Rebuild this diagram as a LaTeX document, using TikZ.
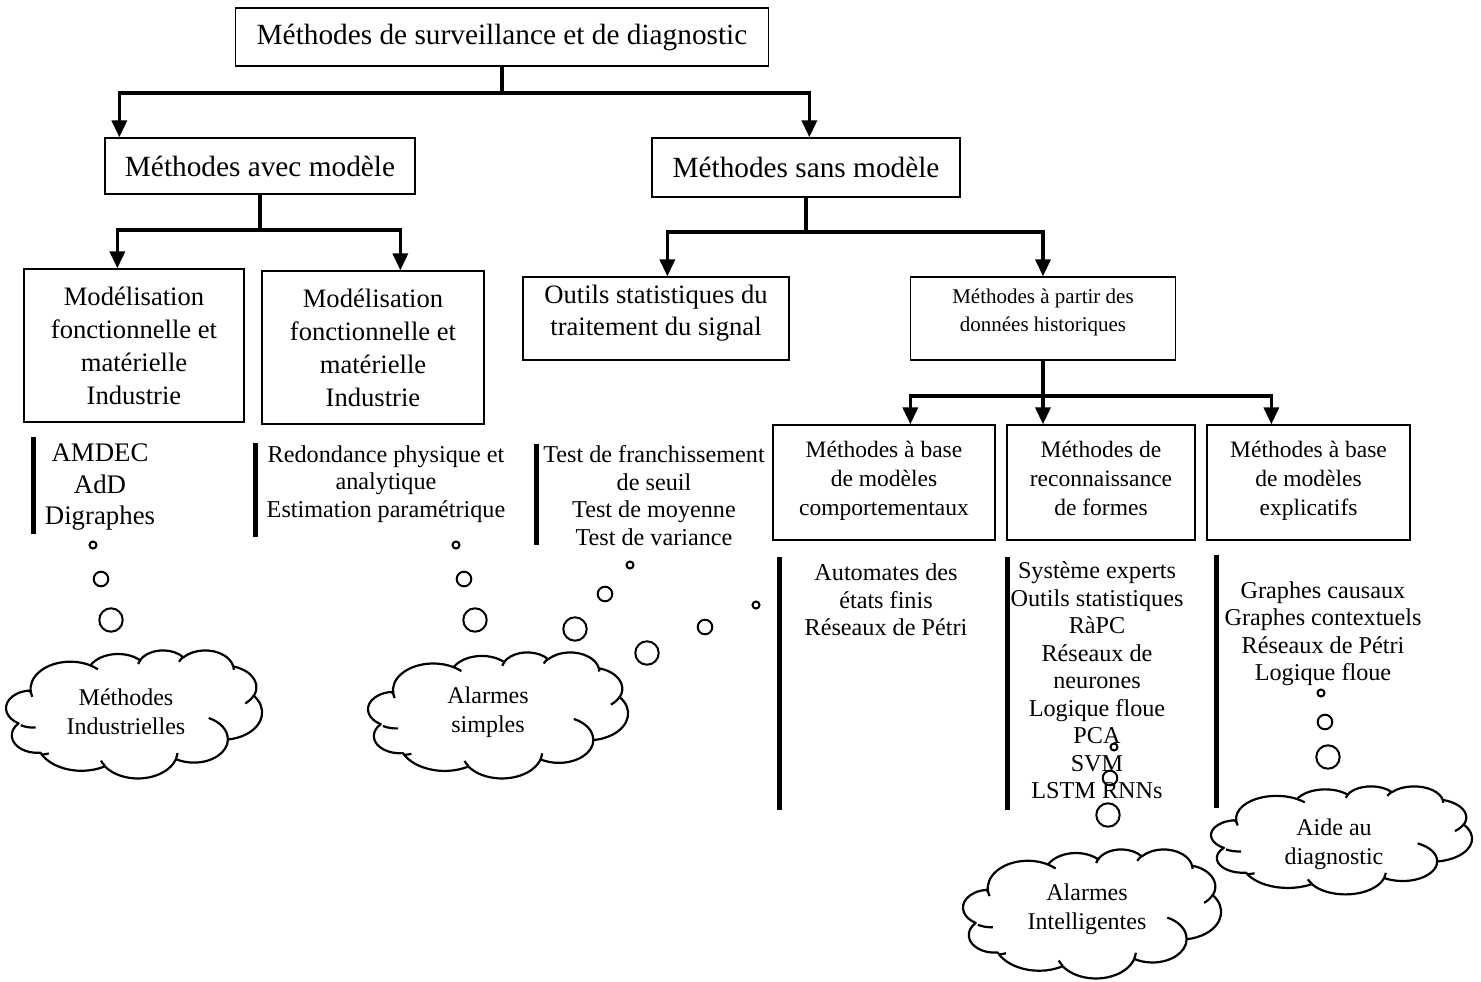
\documentclass[tikz,border=0pt]{standalone}
\usepackage{fontspec}
\setmainfont{Liberation Serif}
\usetikzlibrary{arrows.meta}

% visual (OOXML-style) angle -> parametric angle on an ellipse with radii #2, #3
\makeatletter
\pgfmathdeclarefunction{vpar}{3}{%
  \begingroup
  \pgfmathparse{#1+mod(atan2(#2*sin(#1),#3*cos(#1))-(#1)+900,360)-180}%
  \pgfmath@smuggleone\pgfmathresult
  \endgroup}
\makeatother
% one puff of the cloud: start angle, sweep, x radius, y radius
\newcommand\carc[4]{arc[x radius=#3, y radius=#4, start angle={vpar(#1,#3,#4)}, end angle={vpar(#1+#2,#3,#4)}]}

% cloud callout drawn in the box with top-left corner (#1,#2), width #3, height #4
\newcommand\thoughtcloud[4]{%
  \pgfmathsetmacro\cwx{#3/100}\pgfmathsetmacro\chy{-#4/100}%
  \begin{scope}[shift={(#1,#2)}, x=\cwx pt, y=\chy pt]
    \draw[cloudline, fill=white] (9.028,33.264)
      \carc{-190.487}{123.781}{15.632}{21.273}
      \carc{-144.102}{89.945}{12.345}{16.822}
      \carc{-145.808}{99.723}{10.104}{13.762}
      \carc{-130.986}{117.242}{11.243}{15.266}
      \carc{-78.709}{109.027}{12.345}{16.836}
      \carc{-46.267}{130.269}{15.683}{21.343}
      \carc{0.625}{114.033}{13.391}{18.211}
      \carc{22.452}{115.173}{15.630}{21.331}
      \carc{66.243}{81.375}{17.870}{24.405}
      \carc{-274.942}{146.736}{10.093}{13.699}
      \carc{-246.829}{152.519}{10.058}{13.762}
      -- cycle;
    \draw[cloudline]
      (10.863,60.595) \carc{86.742}{26.430}{10.058}{13.762}
      (16.037,80.785) \carc{73.610}{11.447}{10.093}{13.699}
      (38.144,90.486) \carc{137.624}{14.081}{15.630}{21.331}
      (66.729,80.442) \carc{6.453}{15.998}{15.630}{21.331}
      (79.002,53.134) \carc{-70.292}{70.917}{13.391}{18.211}
      (96.755,35.542) \carc{30.318}{27.752}{12.345}{16.836}
      (88.713,12.560) \carc{-13.744}{14.857}{11.243}{15.266}
      (67.310,9.148)  \carc{-149.181}{18.184}{11.243}{15.266}
      (51.252,10.926) \carc{-163.494}{19.504}{10.104}{13.762}
      (32.407,12.019) \carc{-66.707}{12.319}{15.632}{21.273}
      (9.553,36.549)  \carc{157.654}{11.858}{15.632}{21.273};
  \end{scope}}

% centred lines of text, lifted by #1 inside their box
\newcommand\uptext[2]{\raisebox{#1}[\height][\depth]{\begin{tabular}{@{}c@{}}#2\end{tabular}}}

\tikzset{
  box/.style={draw=black, line width=1.3pt, inner sep=0pt, align=center},
  big/.style={font=\fontsize{29.3}{34}\selectfont},
  mid/.style={font=\fontsize{26.6}{33}\selectfont},
  std/.style={font=\fontsize{24.2}{27.5}\selectfont},
  conn/.style={line width=3.5pt},
  arr/.style={conn, -{Triangle[width=15pt,length=17pt]}},
  bar/.style={line width=5pt},
  bubble/.style={line width=2pt},
  cloudline/.style={line width=2.2pt, line join=round},
  lst/.style={inner sep=0pt, align=center, anchor=north, std},
  cloudtext/.style={inner sep=0pt, align=center, font=\fontsize{24}{29}\selectfont}
}

\begin{document}
\begin{tikzpicture}[x=1pt, y=-1pt]
\useasboundingbox (0,0) rectangle (1481,982);

% ---- tree of boxes ----
\node[box, big, minimum width=533pt, minimum height=58pt] (top) at (502,37)
  {Méthodes de surveillance et de diagnostic};
\node[box, big, minimum width=310pt, minimum height=56pt] (avec) at (260,166)
  {Méthodes avec modèle};
\node[box, big, minimum width=308pt, minimum height=59pt] (sans) at (806,167.5)
  {Méthodes sans modèle};
\node[box, mid, minimum width=220pt, minimum height=153pt] (mod1) at (134,345.5)
  {Modélisation\\fonctionnelle et\\matérielle\\Industrie};
\node[box, mid, minimum width=222pt, minimum height=153pt] (mod2) at (373,347.5)
  {Modélisation\\fonctionnelle et\\matérielle\\Industrie};
\node[box, font=\fontsize{26.6}{32}\selectfont, minimum width=266pt, minimum height=83pt] (outils) at (656,318.5)
  {\uptext{5pt}{Outils statistiques du\\traitement du signal}};
\node[box, font=\fontsize{21}{28}\selectfont, minimum width=265pt, minimum height=83pt] (hist) at (1043,318.5)
  {\uptext{7pt}{Méthodes à partir des\\données historiques}};
\node[box, font=\fontsize{23.5}{29}\selectfont, minimum width=222pt, minimum height=115pt] (beh) at (884,482.5)
  {\uptext{2pt}{Méthodes à base\\de modèles\\comportementaux}};
\node[box, font=\fontsize{23.5}{29}\selectfont, minimum width=188pt, minimum height=115pt] (rec) at (1101,482.5)
  {\uptext{2pt}{Méthodes de\\reconnaissance\\de formes}};
\node[box, font=\fontsize{23.5}{29}\selectfont, minimum width=203pt, minimum height=115pt] (expl) at (1308.5,482.5)
  {\uptext{2pt}{Méthodes à base\\de modèles\\explicatifs}};

% ---- connectors ----
\coordinate (j0) at (502,93);
\coordinate (j1) at (260,230);
\coordinate (j2) at (806,232);
\coordinate (j3) at (1043,396);
\draw[conn] (top.south) -- (j0);
\draw[arr] (j0) -| ([xshift=15pt]avec.north west);
\draw[arr] (j0) -| ([xshift=158pt]sans.north west);
\draw[conn] (avec.south) -- (j1);
\draw[arr] (j1) -| ([xshift=94pt]mod1.north west);
\draw[arr] (j1) -| ([xshift=139pt]mod2.north west);
\draw[conn] (sans.south) -- (j2);
\draw[arr] (j2) -| ([xshift=145pt]outils.north west);
\draw[arr] (j2) -| (hist.north);
\draw[arr] (hist.south) -- (hist.south |- rec.north);
\draw[arr] (j3) -| ([xshift=138pt]beh.north west);
\draw[arr] (j3) -| ([xshift=65pt]expl.north west);

% ---- side bars ----
\draw[bar] (33,437) -- (33,534);
\draw[bar] (255,443) -- (255,537);
\draw[bar] (536,444) -- (536,545);
\draw[bar] (779,557) -- (779,810);
\draw[bar] (1007,557) -- (1007,810);
\draw[bar] (1216,555) -- (1216,808);

% ---- lists ----
\node[lst, font=\fontsize{26.8}{31.5}\selectfont] (l1) at (100,444) {AMDEC\\AdD\\Digraphes};
\node[lst] (l2) at (386,445.5) {Redondance physique et\\analytique\\Estimation paramétrique};
\node[lst] (l3) at (654,445.5) {Test de franchissement\\de seuil\\Test de moyenne\\Test de variance};
\node[lst] (l4) at (886,564) {Automates des\\états finis\\Réseaux de Pétri};
\node[lst] (l5) at (1097,561.5) {Système experts\\Outils statistiques\\RàPC\\Réseaux de\\neurones\\Logique floue\\PCA\\SVM\\LSTM RNNs};
\node[lst] (l6) at (1323,581.5) {Graphes causaux\\Graphes contextuels\\Réseaux de Pétri\\Logique floue};

% ---- clouds ----
\thoughtcloud{8}{650}{254}{128}
\thoughtcloud{370}{652}{258}{126}
\thoughtcloud{965}{849}{256}{129}
\thoughtcloud{1213}{786}{259}{108}
\node[cloudtext] (c1) at (126,712) {Méthodes\\Industrielles};
\node[cloudtext] (c2) at (488,712) {Alarmes\\simples};
\node[cloudtext] (c3) at (1087,909) {Alarmes\\Intelligentes};
\node[cloudtext] (c4) at (1334,844) {Aide au\\diagnostic};

% ---- thought bubbles ----
\draw[bubble] (93,545) circle (3.5) (101,579) circle (7.3) (111,620) circle (11.7);
\draw[bubble] (456,545) circle (3.5) (464,579) circle (7.3) (475,620) circle (11.7);
\draw[bubble] (630,565) circle (3.5) (605,594) circle (7.3) (575,629) circle (11.7);
\draw[bubble] (756,605) circle (3.5) (705,627) circle (7.3) (647,653) circle (11.7);
\draw[bubble] (1114,747) circle (3.5) (1110,778) circle (7.3) (1108,815) circle (11.7);
\draw[bubble] (1321,693) circle (3.5) (1325,722) circle (7.3) (1328,757) circle (11.7);
\end{tikzpicture}
\end{document}
